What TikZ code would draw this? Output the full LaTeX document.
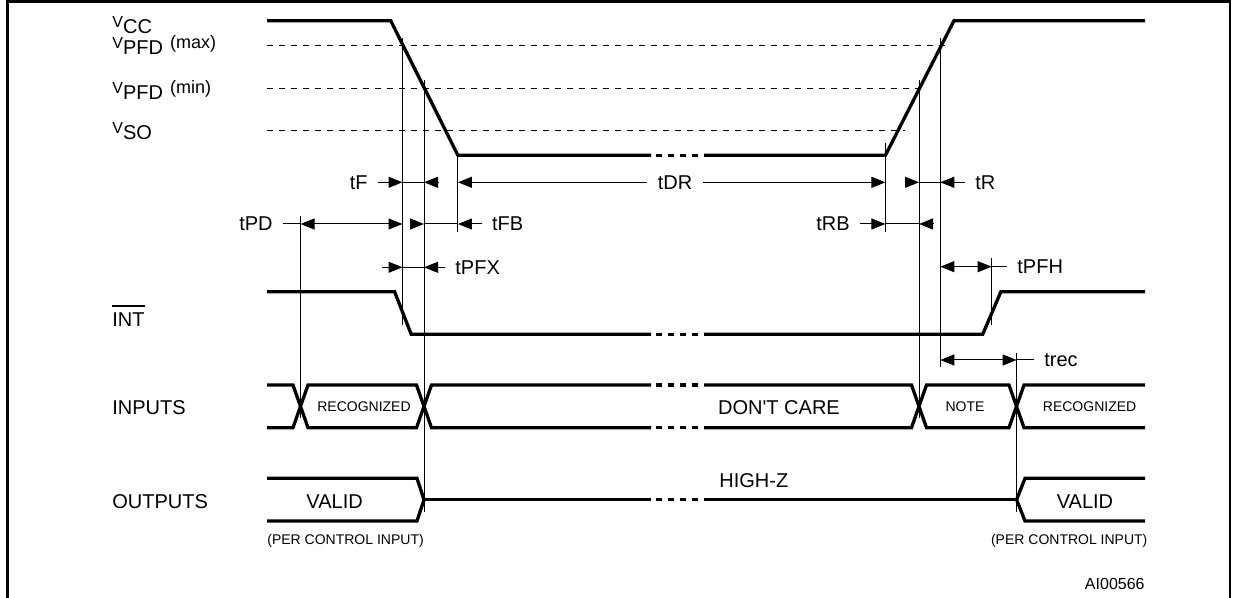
\documentclass[tikz,border=0pt]{standalone}
\usepackage{fontspec}
\setmainfont{Liberation Sans}
\newfontfamily\plainsans{Liberation Sans}
\usetikzlibrary{arrows.meta,calc}

% level label: raised V, subscript, raised suffix
\newcommand{\vlvl}[2]{{\fontsize{8}{9}\selectfont\raisebox{3pt}{V}}{\fontsize{10}{11}\selectfont #1}{\fontsize{9}{10}\selectfont\raisebox{3pt}{#2}}}

\begin{document}
\begin{tikzpicture}[x=0.5pt, y=-0.5pt,
    sigline/.style={line width=1.65pt},
    lvlline/.style={line width=0.7pt, dash pattern=on 3pt off 3pt},
    tickline/.style={line width=0.5pt},
    dimarr/.style={line width=0.5pt, -{Triangle[length=7pt,width=5.5pt]}},
    dimboth/.style={line width=0.5pt, {Triangle[length=7pt,width=5.5pt]}-{Triangle[length=7pt,width=5.5pt]}},
    lbl/.style={font=\fontsize{10}{12}\selectfont, inner sep=0pt},
    tlbl/.style={font=\fontsize{10}{12}\selectfont, inner xsep=5pt, inner ysep=0pt},
    smalltxt/.style={font=\fontsize{7}{8}\selectfont, inner sep=0pt}]
    \useasboundingbox (0,0) rectangle (1233,598);

    % Frame
    \draw[line width=1.2pt] (7.5,598) -- (7.5,1.5) -- (1230,1.5) -- (1230,598);

    % Level labels
    \node[lbl, anchor=base west] (lvcc) at (112,33.5) {\vlvl{CC}{}};
    \node[lbl, anchor=base west] (lpfdmax) at (112,55) {\vlvl{PFD}{\hspace{3.5pt}(max)}};
    \node[lbl, anchor=base west] (lpfdmin) at (112,99.5) {\vlvl{PFD}{\hspace{3.5pt}(min)}};
    \node[lbl, anchor=base west] (lvso) at (112,139.5) {\vlvl{SO}{}};

    % Signal labels
    \node[lbl, anchor=base west] (lint) at (112,326.7) {INT};
    \draw[line width=0.6pt] ([yshift=3.3pt]lint.north west) -- ([yshift=3.3pt]lint.north east);
    \node[lbl, anchor=base west] (linputs) at (112,415) {INPUTS};
    \node[lbl, anchor=base west] (loutputs) at (112,508.3) {OUTPUTS};

    % Level guides
    \draw[lvlline] (267,45.7) -- (947,45.7);
    \draw[lvlline] (267,88.3) -- (923,88.3);
    \draw[lvlline] (267,130.7) -- (905,130.7);

    % VCC
    \draw[sigline] (267,20.7) -- (390.7,20.7) -- (457.9,155.3) -- (651,155.3);
    \draw[sigline] (704,155.3) -- (885.4,155.3) -- (954,20.7) -- (1145,20.7);

    % INT
    \draw[sigline] (267,291.7) -- (394.6,291.7) -- (411.2,334.3) -- (651,334.3);
    \draw[sigline] (704,334.3) -- (982.7,334.3) -- (1000.9,291.7) -- (1145,291.7);

    % INPUTS
    \draw[sigline] (267,385) -- (293,385) -- (308,427.7) -- (416.5,427.7) -- (431.5,385) -- (651,385);
    \draw[sigline] (267,427.7) -- (293,427.7) -- (308,385) -- (416.5,385) -- (431.5,427.7) -- (651,427.7);
    \draw[sigline] (704,385) -- (911.5,385) -- (926.5,427.7) -- (1009,427.7) -- (1024,385) -- (1145,385);
    \draw[sigline] (704,427.7) -- (911.5,427.7) -- (926.5,385) -- (1009,385) -- (1024,427.7) -- (1145,427.7);

    % OUTPUTS
    \draw[sigline] (267,478.3) -- (417,478.3) -- (424,499.7) -- (417,521) -- (267,521);
    \draw[sigline] (424,499.7) -- (651,499.7);
    \draw[sigline] (704,499.7) -- (1016.6,499.7);
    \draw[sigline] (1145,478.3) -- (1025,478.3) -- (1016.6,499.7) -- (1025,521) -- (1145,521);

    % Time breaks
    \foreach \y in {155.3,334.3,385,427.7,499.7}
        \foreach \d in {656,668,680,692}
            \draw[sigline] (\d,\y) -- ++(6,0);

    % Timing markers
    \coordinate (mPD) at (300.5,216);
    \coordinate (mFmax) at (402.5,38);
    \coordinate (mFmin) at (424,80);
    \coordinate (mFlow) at (457.9,151.7);
    \coordinate (mRlow) at (885.4,143.3);
    \coordinate (mRmin) at (919,80);
    \coordinate (mRmax) at (940.3,38);
    \coordinate (mPFH) at (991.7,258);
    \coordinate (mRec) at (1016.6,352.7);
    \draw[tickline] (mPD) -- ++(0,202.3);
    \draw[tickline] (mFmax) -- ++(0,287);
    \draw[tickline] (mFmin) -- ++(0,431.7);
    \draw[tickline] (mFlow) -- ++(0,80);
    \draw[tickline] (mRlow) -- ++(0,88.4);
    \draw[tickline] (mRmin) -- ++(0,338.3);
    \draw[tickline] (mRmax) -- ++(0,328.7);
    \draw[tickline] (mPFH) -- ++(0,67);
    \draw[tickline] (mRec) -- ++(0,159);

    % tF
    \node[tlbl, anchor=east] (tF) at (378,182.3) {tF};
    \draw[dimarr] (tF) -- (tF -| mFmax);
    \draw[tickline] (tF -| mFmax) -- (tF -| mFmin);
    \draw[dimarr] ($(tF -| mFmin)+(14,0)$) -- (tF -| mFmin);
    % tDR
    \node[tlbl] (tDR) at (675,182.3) {tDR};
    \draw[dimarr] (tDR) -- (tDR -| mFlow);
    \draw[dimarr] (tDR) -- (tDR -| mRlow);
    % tR
    \node[tlbl, anchor=west] (tR) at (965,182.3) {tR};
    \draw[dimarr] ($(tR -| mRmin)-(14,0)$) -- (tR -| mRmin);
    \draw[tickline] (tR -| mRmin) -- (tR -| mRmax);
    \draw[dimarr] (tR) -- (tR -| mRmax);
    % tPD
    \node[tlbl, anchor=east] (tPD) at (283,224) {tPD};
    \draw[tickline] (tPD) -- (tPD -| mPD);
    \draw[dimboth] (tPD -| mPD) -- (tPD -| mFmax);
    % tFB
    \node[tlbl, anchor=west] (tFB) at (481.7,224) {tFB};
    \draw[dimarr] ($(tFB -| mFmin)-(14,0)$) -- (tFB -| mFmin);
    \draw[tickline] (tFB -| mFmin) -- (tFB -| mFlow);
    \draw[dimarr] (tFB) -- (tFB -| mFlow);
    % tRB
    \node[tlbl, anchor=east] (tRB) at (860,224) {tRB};
    \draw[dimarr] (tRB) -- (tRB -| mRlow);
    \draw[tickline] (tRB -| mRlow) -- (tRB -| mRmin);
    \draw[dimarr] ($(tRB -| mRmin)+(14,0)$) -- (tRB -| mRmin);
    % tPFX
    \node[tlbl, anchor=west] (tPFX) at (445,267.3) {tPFX};
    \draw[dimarr] ($(tPFX -| mFmax)-(21,0)$) -- (tPFX -| mFmax);
    \draw[tickline] (tPFX -| mFmax) -- (tPFX -| mFmin);
    \draw[dimarr] (tPFX) -- (tPFX -| mFmin);
    % tPFH
    \node[tlbl, anchor=west] (tPFH) at (1007,266.7) {tPFH};
    \draw[dimboth] (tPFH -| mRmax) -- (tPFH -| mPFH);
    \draw[tickline] (tPFH -| mPFH) -- (tPFH);
    % trec
    \node[tlbl, anchor=west] (trec) at (1034,360) {trec};
    \draw[dimboth] (trec -| mRmax) -- (trec -| mRec);
    \draw[tickline] (trec -| mRec) -- (trec);

    % Bus texts
    \node[smalltxt, anchor=base] (recog1) at (364,411.7) {RECOGNIZED};
    \node[lbl, anchor=base] (dontcare) at (779,415) {DON{\plainsans'}T CARE};
    \node[smalltxt, anchor=base] (note) at (965,411.7) {NOTE};
    \node[smalltxt, anchor=base] (recog2) at (1089.6,411.7) {RECOGNIZED};
    \node[lbl, anchor=base] (valid1) at (334.6,508.3) {VALID};
    \node[lbl, anchor=base west] (highz) at (719,487.3) {HIGH-Z};
    \node[lbl, anchor=base] (valid2) at (1085,508.3) {VALID};
    \node[smalltxt, anchor=base west] (perctl1) at (267,545) {(PER CONTROL INPUT)};
    \node[smalltxt, anchor=base east] (perctl2) at (1147.8,545) {(PER CONTROL INPUT)};
    \node[font=\fontsize{8}{9}\selectfont, inner sep=0pt, anchor=base east] (figid) at (1145,589.3) {AI00566};
\end{tikzpicture}
\end{document}
